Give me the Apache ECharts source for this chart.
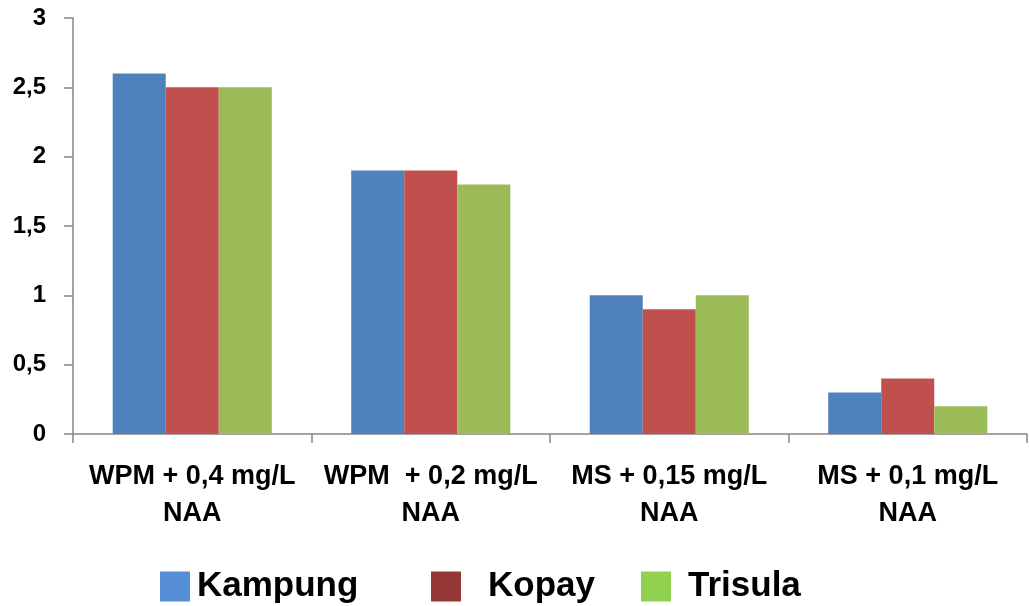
<!DOCTYPE html>
<html>
<head>
<meta charset="utf-8">
<script src="https://cdn.jsdelivr.net/npm/echarts@6/dist/echarts.min.js"></script>
<style>
  html, body { margin: 0; padding: 0; background: #fff; }
  #chart { width: 1029px; height: 606px; }
</style>
</head>
<body>
<div id="chart"></div>
<script>
const FONT = '"Liberation Sans Narrow", "Arial Narrow", "Liberation Sans", sans-serif';

const categories = [
  "WPM + 0,4 mg/L\nNAA",
  "WPM  + 0,2 mg/L\nNAA",
  "MS + 0,15 mg/L\nNAA",
  "MS + 0,1 mg/L\nNAA"
];
const kampung = [2.6, 1.9, 1.0, 0.3];
const kopay = [2.5, 1.9, 0.9, 0.4];
const trisula = [2.5, 1.8, 1.0, 0.2];

// bars use the office palette, the legend swatches are brighter (as in the source)
const barColors = ["#4F81BD", "#C0504D", "#9BBB59"];
const legendColors = ["#558ED5", "#953735", "#92D050"];

const chart = echarts.init(document.getElementById("chart"), null, { renderer: "canvas" });

const axisGray = "#868686";

// one legend per entry: the source spaces them unevenly
function legendAt(name, color, left, textGap) {
  return {
    left: left,
    top: 569,
    padding: 0,
    itemWidth: 30,
    itemHeight: 30,
    icon: "rect",
    selectedMode: false,
    data: [{ name: name, itemStyle: { color: color } }],
    textStyle: {
      fontFamily: FONT,
      fontWeight: "bold",
      fontSize: 35,
      color: "#000",
      padding: [0, 0, 0, textGap]
    }
  };
}

chart.setOption({
  animation: false,
  backgroundColor: "#fff",
  grid: { left: 73, right: 2, top: 18, bottom: 172 },
  legend: [
    legendAt("Kampung", legendColors[0], 160, 2),
    legendAt("Kopay", legendColors[1], 431, 22),
    legendAt("Trisula", legendColors[2], 641, 12)
  ],
  xAxis: {
    type: "category",
    data: categories,
    axisLine: { lineStyle: { color: axisGray, width: 1.5 } },
    axisTick: { show: true, length: 9, alignWithLabel: false, lineStyle: { color: axisGray, width: 1.5 } },
    axisLabel: {
      margin: 24,
      interval: 0,
      fontFamily: FONT,
      fontWeight: "bold",
      fontSize: 27,
      lineHeight: 37,
      color: "#000"
    }
  },
  yAxis: {
    type: "value",
    min: 0,
    max: 3,
    interval: 0.5,
    axisLine: { show: true, lineStyle: { color: axisGray, width: 1.5 } },
    axisTick: { show: true, length: 9, lineStyle: { color: axisGray, width: 1.5 } },
    splitLine: { show: false },
    axisLabel: {
      margin: 27,
      fontFamily: FONT,
      fontWeight: "bold",
      fontSize: 24,
      color: "#000",
      formatter: (v) => String(v).replace(".", ",")
    }
  },
  series: [
    { name: "Kampung", type: "bar", data: kampung, barGap: "0%", barCategoryGap: "33.3%",
      itemStyle: { color: barColors[0] } },
    { name: "Kopay", type: "bar", data: kopay, barGap: "0%", barCategoryGap: "33.3%",
      itemStyle: { color: barColors[1] } },
    { name: "Trisula", type: "bar", data: trisula, barGap: "0%", barCategoryGap: "33.3%",
      itemStyle: { color: barColors[2] } }
  ]
});
</script>
</body>
</html>
